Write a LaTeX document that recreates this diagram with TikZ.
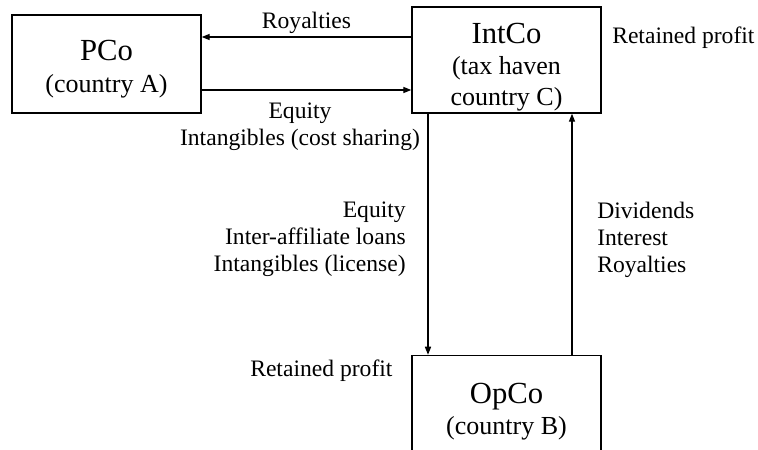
\documentclass[tikz,border=0pt]{standalone}
\usepackage{fontspec}
\setmainfont{Liberation Serif}
\usetikzlibrary{arrows.meta, positioning}
\newcommand{\firmfont}{\fontsize{23pt}{26pt}\selectfont}
\newcommand{\placefont}{\fontsize{19.5pt}{23.3pt}\selectfont}
\newcommand{\flowfont}{\fontsize{17.7pt}{20.2pt}\selectfont}
\tikzset{
	firm/.style={draw, line width=1.1pt, minimum width=141.75pt, inner sep=0pt, align=center, font=\placefont},
	flow/.style={-{Triangle[length=6pt,width=4.6pt]}, line width=0.9pt},
	note/.style={inner sep=0pt, font=\flowfont},
}

\begin{document}
\begin{tikzpicture}[x=0.75pt, y=-0.75pt]
			\useasboundingbox (0,0) rectangle (758,450);
			\node (firm pco) [firm, minimum height=73.5pt] at (106.5,64) {{\firmfont\rule{0pt}{23pt}PCo}\\(country A)};
			\node (firm intco) [firm, minimum height=79.5pt] at (506.5,60) {{\firmfont\rule{0pt}{26pt}IntCo}\\(tax haven\\country C)};
			\node (firm opco) [firm, minimum height=84pt, below=180.75pt of firm intco] {{\firmfont OpCo}\\(country B)};
			\node (note cost) [note, anchor=north, align=center] at (300,103) {Equity\\Intangibles (cost sharing)};
			\node (note down) [note, anchor=north east, align=right] at (406,202) {Equity\\Inter-affiliate loans\\Intangibles (license)};
			\node (note up) [note, anchor=north west, align=left] at (597,202) {Dividends\\Interest\\Royalties};
			\node (note intco) [note, anchor=north west] at (612,27) {Retained profit};
			\node (note opco) [note, anchor=north west] at (250,360) {Retained profit};
			\draw[flow] (firm intco.west |- 0,37) -- node[note, above=2pt] {Royalties} (firm pco.east |- 0,37);
			\draw[flow] (firm pco.east |- 0,90) -- (firm intco.west |- 0,90);
			\draw[flow] (firm intco.south -| 428,0) -- (firm opco.north -| 428,0);
			\draw[flow] (firm opco.north -| 572,0) -- (firm intco.south -| 572,0);
		\end{tikzpicture}
\end{document}
